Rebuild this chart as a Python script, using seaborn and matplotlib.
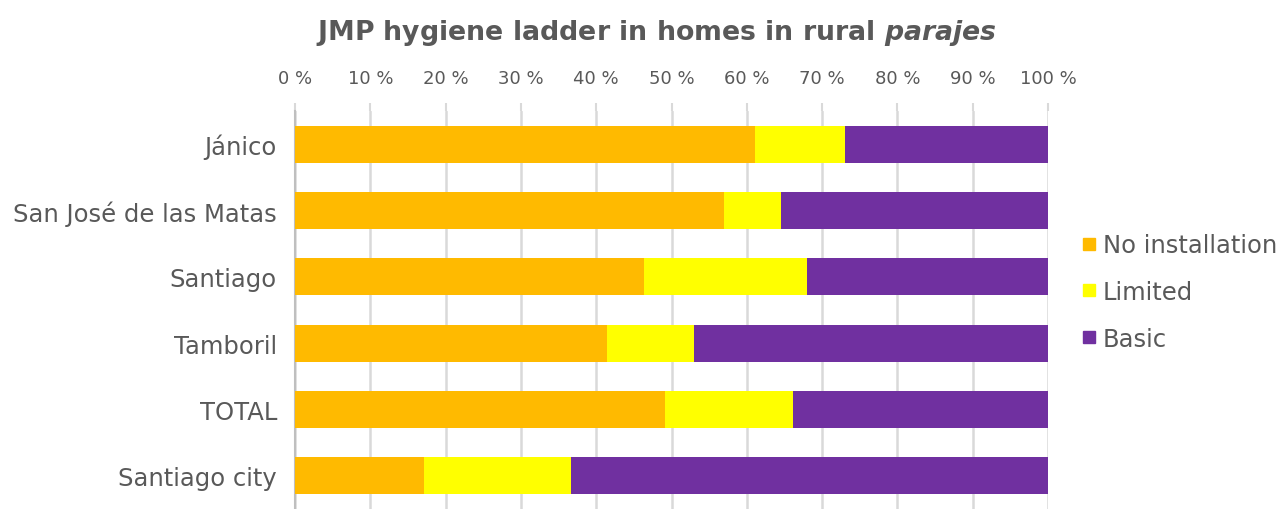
import matplotlib
matplotlib.use("Agg")
import matplotlib.pyplot as plt
from matplotlib.lines import Line2D
import numpy as np
import pandas as pd
import seaborn as sns

# Share of homes (%) on each rung of the JMP hygiene ladder
categories = ["Jánico", "San José de las Matas", "Santiago", "Tamboril", "TOTAL", "Santiago city"]
no_installation = [61.1, 57.0, 46.3, 41.5, 49.1, 17.1]
limited = [12.0, 7.5, 21.7, 11.5, 17.0, 19.6]
basic = [26.9, 35.5, 32.0, 47.0, 33.9, 63.3]

series_names = ["No installation", "Limited", "Basic"]
colors = {"No installation": "#FFBA00", "Limited": "#FFFF00", "Basic": "#7030A0"}
xticks = list(range(0, 101, 10))
xtick_labels = [f"{v} %" for v in xticks]

TEXT = "#595959"
GRID = "#D9D9D9"

sns.set_theme(style="white")
plt.rcParams["font.family"] = ["DejaVu Sans"]

df = pd.DataFrame({
    "category": categories,
    "No installation": no_installation,
    "Limited": limited,
    "Basic": basic,
})
cum = df[series_names].cumsum(axis=1)

fig = plt.figure(figsize=(12.84, 5.10), dpi=100)
ax = fig.add_axes([295 / 1284, 0.0, (1048 - 295) / 1284, 1 - 112 / 510])

# Stacked bars: draw cumulative totals from the widest segment down
for name in reversed(series_names):
    sns.barplot(x=cum[name], y=df["category"], orient="h", color=colors[name],
                width=0.56, saturation=1, ax=ax, zorder=3, linewidth=0)

ax.set_xlim(0, 100)
ax.set_ylim(5.5, -0.5)
ax.set_xticks(xticks)
ax.set_xticklabels(xtick_labels)
ax.xaxis.tick_top()
ax.tick_params(axis="x", labelcolor=TEXT, labelsize=13, length=6,
               width=1.5, pad=11, top=True, bottom=False, color=GRID)
ax.tick_params(axis="y", labelcolor=TEXT, labelsize=17.5, length=0, pad=13)
ax.set_xlabel("")
ax.set_ylabel("")
ax.grid(axis="x", color=GRID, linewidth=1.8, zorder=0)
ax.set_axisbelow(True)
for side in ["top", "right", "bottom"]:
    ax.spines[side].set_visible(False)
ax.spines["left"].set_color("#BFBFBF")
ax.spines["left"].set_linewidth(1.5)

fig.suptitle("JMP hygiene ladder in homes in rural $\\mathbfit{parajes}$", x=0.511, y=0.965,
             fontsize=19.3, color=TEXT, fontweight="bold")

handles = [Line2D([0], [0], marker="s", linestyle="", markersize=8,
                  markerfacecolor=colors[n], markeredgecolor=colors[n]) for n in series_names]
fig.legend(handles, series_names, loc="center left", bbox_to_anchor=(1065 / 1284, 1 - 293 / 510),
           frameon=False, fontsize=17.5, labelcolor=TEXT, handletextpad=0.05,
           labelspacing=0.93, handlelength=1.0, borderpad=0)

fig.savefig("out.png", dpi=100)
